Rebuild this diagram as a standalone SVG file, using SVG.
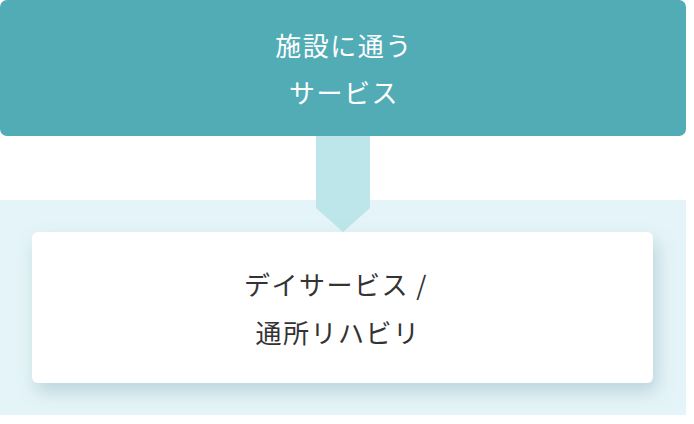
<svg xmlns="http://www.w3.org/2000/svg" width="694" height="424" viewBox="0 0 694 424">
<defs>
<style>
.t{font-family:"Noto Sans CJK JP","Noto Sans",sans-serif;font-size:26px;letter-spacing:1.5px;text-anchor:middle}
.w{fill:#ffffff}
.d{fill:#333333}
</style>
<filter id="sh" x="-10%" y="-20%" width="120%" height="160%">
<feDropShadow dx="4" dy="9" stdDeviation="9" flood-color="#6a9aa6" flood-opacity="0.35"/>
</filter>
</defs>
<rect x="0" y="0" width="694" height="424" fill="#ffffff"/>
<rect id="band" x="0" y="200" width="686" height="215" fill="#e5f4f8"/>
<g id="connectors">
<path d="M316 134 H370 V208 L343 232 L316 208 Z" fill="#bde6ea"/>
</g>
<g id="node-top">
<rect x="0" y="0" width="686" height="136" rx="7" fill="#52acb6"/>
<text class="t w" x="344" y="56">施設に通う</text>
<text class="t w" x="344" y="103">サービス</text>
</g>
<g id="node-bottom">
<rect x="32" y="232" width="621" height="151" rx="6" fill="#ffffff" filter="url(#sh)"/>
<text class="t d" x="336" y="295">デイサービス /</text>
<text class="t d" x="338" y="343">通所リハビリ</text>
</g>
</svg>
